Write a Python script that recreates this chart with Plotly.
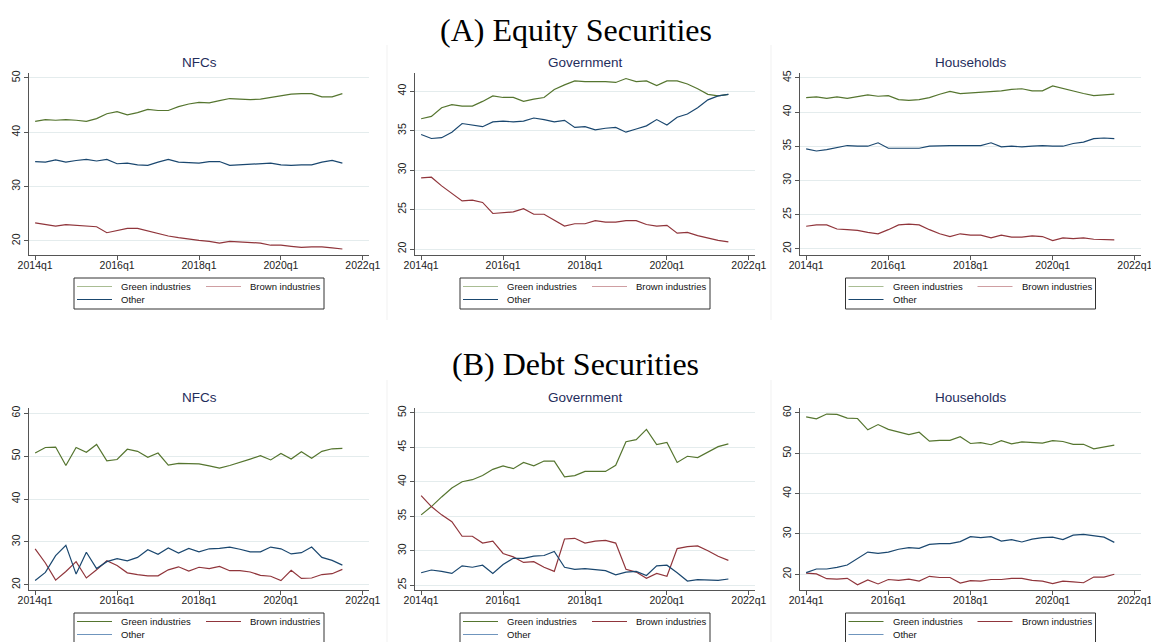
import plotly.graph_objects as go

# Quarterly observations, 2014q1 .. 2021q3
quarters = [f"{y}q{q}" for y in range(2014, 2022) for q in range(1, 5)][:31]
tick_labels = ["2014q1", "2016q1", "2018q1", "2020q1", "2022q1"]
tick_positions = [0, 8, 16, 24, 32]

# (A) Equity securities, shares in %
eq_nfc_green = [42.0, 42.3, 42.2, 42.3, 42.2, 42.0, 42.5, 43.4, 43.8, 43.2, 43.6, 44.2, 44.0, 44.0, 44.7, 45.2,
                45.5, 45.4, 45.8, 46.2, 46.1, 46.0, 46.1, 46.4, 46.8, 47.0, 47.1, 47.1, 46.5, 46.5, 47.1]
eq_nfc_brown = [23.3, 23.0, 22.7, 23.0, 22.9, 22.8, 22.6, 21.5, 21.9, 22.3, 22.3, 21.8, 21.3, 20.9, 20.6, 20.3,
                20.1, 19.9, 19.6, 19.9, 19.8, 19.7, 19.6, 19.2, 19.2, 19.0, 18.8, 18.9, 18.9, 18.7, 18.5]
eq_nfc_other = [34.6, 34.5, 34.9, 34.5, 34.8, 35.0, 34.7, 35.0, 34.2, 34.3, 34.0, 33.9, 34.5, 35.0, 34.5, 34.4,
                34.3, 34.6, 34.6, 33.9, 34.0, 34.1, 34.2, 34.3, 34.0, 33.9, 34.0, 34.0, 34.5, 34.8, 34.3]

eq_gov_green = [36.5, 36.8, 37.9, 38.3, 38.1, 38.1, 38.7, 39.4, 39.2, 39.2, 38.7, 39.0, 39.2, 40.2, 40.8, 41.3,
                41.2, 41.2, 41.2, 41.1, 41.6, 41.2, 41.3, 40.7, 41.3, 41.3, 40.9, 40.3, 39.6, 39.4, 39.6]
eq_gov_brown = [29.0, 29.1, 28.0, 27.0, 26.1, 26.2, 25.9, 24.5, 24.6, 24.7, 25.1, 24.4, 24.4, 23.6, 22.9, 23.2,
                23.2, 23.6, 23.4, 23.4, 23.6, 23.6, 23.1, 22.9, 23.0, 22.0, 22.1, 21.7, 21.4, 21.1, 20.9]
eq_gov_other = [34.5, 34.0, 34.1, 34.8, 35.9, 35.7, 35.5, 36.1, 36.2, 36.1, 36.2, 36.6, 36.4, 36.1, 36.3, 35.4,
                35.5, 35.1, 35.3, 35.4, 34.8, 35.2, 35.6, 36.4, 35.7, 36.7, 37.1, 37.9, 38.9, 39.4, 39.6]

eq_hh_green = [42.1, 42.2, 42.0, 42.2, 42.0, 42.3, 42.5, 42.3, 42.4, 41.8, 41.7, 41.8, 42.1, 42.6, 43.0, 42.7,
               42.8, 42.9, 42.9, 43.1, 43.3, 43.4, 43.1, 43.1, 43.8, 43.4, 43.0, 42.7, 42.4, 42.5, 42.6]
eq_hh_brown = [23.3, 23.5, 23.5, 22.9, 22.8, 22.7, 22.4, 22.2, 22.8, 23.5, 23.6, 23.5, 22.8, 22.2, 21.8, 22.2,
               22.0, 22.0, 21.6, 22.0, 21.7, 21.7, 21.9, 21.8, 21.2, 21.6, 21.5, 21.6, 21.4, 21.3, 21.3]
eq_hh_other = [34.6, 34.3, 34.5, 34.8, 35.1, 35.0, 35.0, 35.5, 34.7, 34.7, 34.7, 34.7, 35.0, 35.1, 35.1, 35.1,
               35.1, 35.1, 35.5, 34.9, 35.0, 34.9, 35.0, 35.1, 35.0, 35.0, 35.4, 35.6, 36.1, 36.2, 36.1]

# (B) Debt securities, shares in %
dt_nfc_green = [50.7, 52.0, 52.1, 47.8, 52.0, 50.9, 52.7, 48.9, 49.2, 51.6, 51.1, 49.7, 50.7, 47.9, 48.3, 48.3,
                48.2, 47.7, 47.2, 47.8, 48.5, 49.3, 50.1, 49.1, 50.6, 49.3, 51.0, 49.5, 51.1, 51.7, 51.8]
dt_nfc_brown = [28.4, 25.1, 21.1, 23.1, 25.4, 21.6, 23.5, 25.6, 24.5, 22.8, 22.4, 22.1, 22.1, 23.5, 24.2, 23.2,
                24.1, 23.8, 24.3, 23.3, 23.3, 23.0, 22.2, 22.0, 21.0, 23.4, 21.5, 21.6, 22.4, 22.6, 23.6]
dt_nfc_other = [21.0, 22.9, 26.8, 29.2, 22.5, 27.6, 23.8, 25.4, 26.1, 25.6, 26.4, 28.2, 27.1, 28.6, 27.4, 28.5,
                27.7, 28.4, 28.5, 28.8, 28.3, 27.7, 27.7, 28.8, 28.4, 27.2, 27.5, 28.8, 26.4, 25.7, 24.6]

dt_gov_green = [35.2, 36.4, 37.8, 39.1, 40.0, 40.3, 40.9, 41.8, 42.3, 41.9, 42.8, 42.3, 43.0, 43.0, 40.7, 40.9,
                41.5, 41.5, 41.5, 42.4, 45.8, 46.1, 47.6, 45.4, 45.7, 42.8, 43.7, 43.5, 44.3, 45.1, 45.5]
dt_gov_brown = [38.0, 36.4, 35.2, 34.2, 32.1, 32.1, 31.1, 31.4, 29.6, 29.1, 28.3, 28.4, 27.6, 27.0, 31.7, 31.8,
                31.1, 31.4, 31.5, 31.1, 27.3, 26.9, 26.0, 26.7, 26.3, 30.3, 30.6, 30.7, 30.0, 29.2, 28.6]
dt_gov_other = [26.8, 27.2, 27.0, 26.7, 27.8, 27.6, 27.9, 26.7, 28.0, 28.9, 28.9, 29.2, 29.3, 29.9, 27.6, 27.3,
                27.4, 27.2, 27.1, 26.5, 26.9, 27.0, 26.4, 27.8, 27.9, 26.8, 25.6, 25.8, 25.7, 25.7, 25.9]

dt_hh_green = [59.0, 58.5, 59.7, 59.6, 58.7, 58.6, 55.8, 57.1, 55.9, 55.2, 54.6, 55.2, 53.0, 53.2, 53.2, 54.1,
               52.4, 52.6, 52.1, 53.1, 52.3, 52.8, 52.7, 52.5, 53.1, 52.9, 52.2, 52.2, 51.1, 51.5, 52.0]
dt_hh_brown = [20.3, 20.1, 18.9, 18.8, 19.0, 17.4, 18.6, 17.6, 18.7, 18.5, 18.8, 18.3, 19.5, 19.2, 19.2, 17.8,
               18.4, 18.3, 18.7, 18.7, 19.0, 19.0, 18.5, 18.3, 17.7, 18.3, 18.1, 17.9, 19.3, 19.3, 20.0]
dt_hh_other = [20.4, 21.3, 21.3, 21.7, 22.3, 24.0, 25.5, 25.2, 25.5, 26.2, 26.6, 26.4, 27.4, 27.6, 27.6, 28.1,
               29.3, 29.1, 29.3, 28.2, 28.6, 28.0, 28.7, 29.1, 29.2, 28.6, 29.7, 29.9, 29.5, 29.2, 27.9]

series_names = ["Green industries", "Brown industries", "Other"]
panel_titles = ["NFCs", "Government", "Households"]
section_titles = ["(A) Equity Securities", "(B) Debt Securities"]

W, H = 1151, 642
GREEN, BROWN, NAVY = "#55752f", "#90353b", "#1a476f"

# pixel layout of the six plot regions
col_x = [(29, 369), (415, 755), (800, 1141)]
row_y = [(73, 255), (408, 590)]
y_ranges = [
    [(17.4, 50.9), (19.24, 42.3), (19.1, 45.7)],
    [(18.8, 61.2), (24.3, 50.7), (16.1, 61.2)],
]
y_ticks = [
    [[20, 30, 40, 50], [20, 25, 30, 35, 40], [20, 25, 30, 35, 40, 45]],
    [[20, 30, 40, 50, 60], [25, 30, 35, 40, 45, 50], [20, 30, 40, 50, 60]],
]
panels = [
    [(eq_nfc_green, eq_nfc_brown, eq_nfc_other),
     (eq_gov_green, eq_gov_brown, eq_gov_other),
     (eq_hh_green, eq_hh_brown, eq_hh_other)],
    [(dt_nfc_green, dt_nfc_brown, dt_nfc_other),
     (dt_gov_green, dt_gov_brown, dt_gov_other),
     (dt_hh_green, dt_hh_brown, dt_hh_other)],
]


def px(x):
    return x / W


def py(y):
    return 1 - y / H


fig = go.Figure()
x_idx = list(range(len(quarters)))
layout = {}
shapes = []
annotations = []
tick_font = dict(family="Liberation Sans, Arial", size=10.5, color="#222")

n = 0
for r in range(2):
    for c in range(3):
        n += 1
        xa = "x" if n == 1 else f"x{n}"
        ya = "y" if n == 1 else f"y{n}"
        for vals, color, name in zip(panels[r][c], (GREEN, BROWN, NAVY), series_names):
            fig.add_trace(go.Scatter(
                x=x_idx, y=vals, mode="lines", name=name,
                line=dict(color=color, width=1.2),
                customdata=quarters, hovertemplate="%{customdata}: %{y:.1f}<extra>" + name + "</extra>",
                xaxis=xa, yaxis=ya, showlegend=False))
        x0, x1 = col_x[c]
        y0, y1 = row_y[r]
        layout["xaxis" if n == 1 else f"xaxis{n}"] = dict(
            domain=[px(x0), px(x1)], anchor=ya, range=[-0.6, 32.6], automargin=False,
            tickvals=tick_positions, ticktext=tick_labels,
            ticklabeloverflow="allow", ticklabelstandoff=-4,
            showline=True, linecolor="#555", linewidth=1,
            ticks="outside", ticklen=4, tickcolor="#555",
            showgrid=False, zeroline=False, tickfont=tick_font)
        layout["yaxis" if n == 1 else f"yaxis{n}"] = dict(
            domain=[py(y1), py(y0)], anchor=xa, range=list(y_ranges[r][c]), automargin=False,
            tickvals=y_ticks[r][c], tickangle=-90, ticklabeloverflow="allow",
            showline=True, linecolor="#555", linewidth=1,
            ticks="outside", ticklen=4, tickcolor="#555",
            showgrid=True, gridcolor="#e4eced", gridwidth=1, zeroline=False, tickfont=tick_font)

        # panel title
        cx = (x0 + x1) / 2
        annotations.append(dict(
            text=panel_titles[c], x=px(cx), y=py(y0 - 11), xref="paper", yref="paper",
            xanchor="center", yanchor="middle", showarrow=False,
            font=dict(family="Liberation Sans, Arial", size=13.5, color="#1f2d5c")))

        # legend box
        lx0 = cx - 125
        ly0 = y1 + 23
        legend_cols = ("#a9bd93", "#cf9ea2", NAVY) if r == 0 else (GREEN, BROWN, "#6f95bd")
        shapes.append(dict(type="rect", xref="paper", yref="paper",
                           x0=px(lx0), x1=px(lx0 + 250), y0=py(ly0), y1=py(ly0 + 31),
                           line=dict(color="#333", width=1), fillcolor="white", layer="above"))
        entries = [(lx0 + 3, ly0 + 8.5), (lx0 + 132, ly0 + 8.5), (lx0 + 3, ly0 + 21.5)]
        for (ex, ey), col, name in zip(entries, legend_cols, series_names):
            shapes.append(dict(type="line", xref="paper", yref="paper",
                               x0=px(ex), x1=px(ex + 35), y0=py(ey), y1=py(ey),
                               line=dict(color=col, width=1.2), layer="above"))
            annotations.append(dict(
                text=name, x=px(ex + 42), y=py(ey), xref="paper", yref="paper",
                xanchor="left", yanchor="middle", showarrow=False,
                font=dict(family="Liberation Sans, Arial", size=9.5, color="#111")))

# faint borders of the individual graph regions
for bx in (387, 771):
    for (t, b) in ((45, 320), (380, 642)):
        shapes.append(dict(type="line", xref="paper", yref="paper",
                           x0=px(bx), x1=px(bx), y0=py(t), y1=py(b),
                           line=dict(color="#f1f1f1", width=1), layer="below"))

for title, ty in zip(section_titles, (30, 364)):
    annotations.append(dict(
        text=title, x=0.5, y=py(ty), xref="paper", yref="paper",
        xanchor="center", yanchor="middle", showarrow=False,
        font=dict(family="Liberation Serif, Times New Roman", size=32, color="#000")))

fig.update_layout(
    template="none",
    width=W, height=H, margin=dict(l=0, r=0, t=0, b=0, autoexpand=False),
    paper_bgcolor="white", plot_bgcolor="white",
    showlegend=False, shapes=shapes, annotations=annotations, **layout)

fig.write_html("out.html")
